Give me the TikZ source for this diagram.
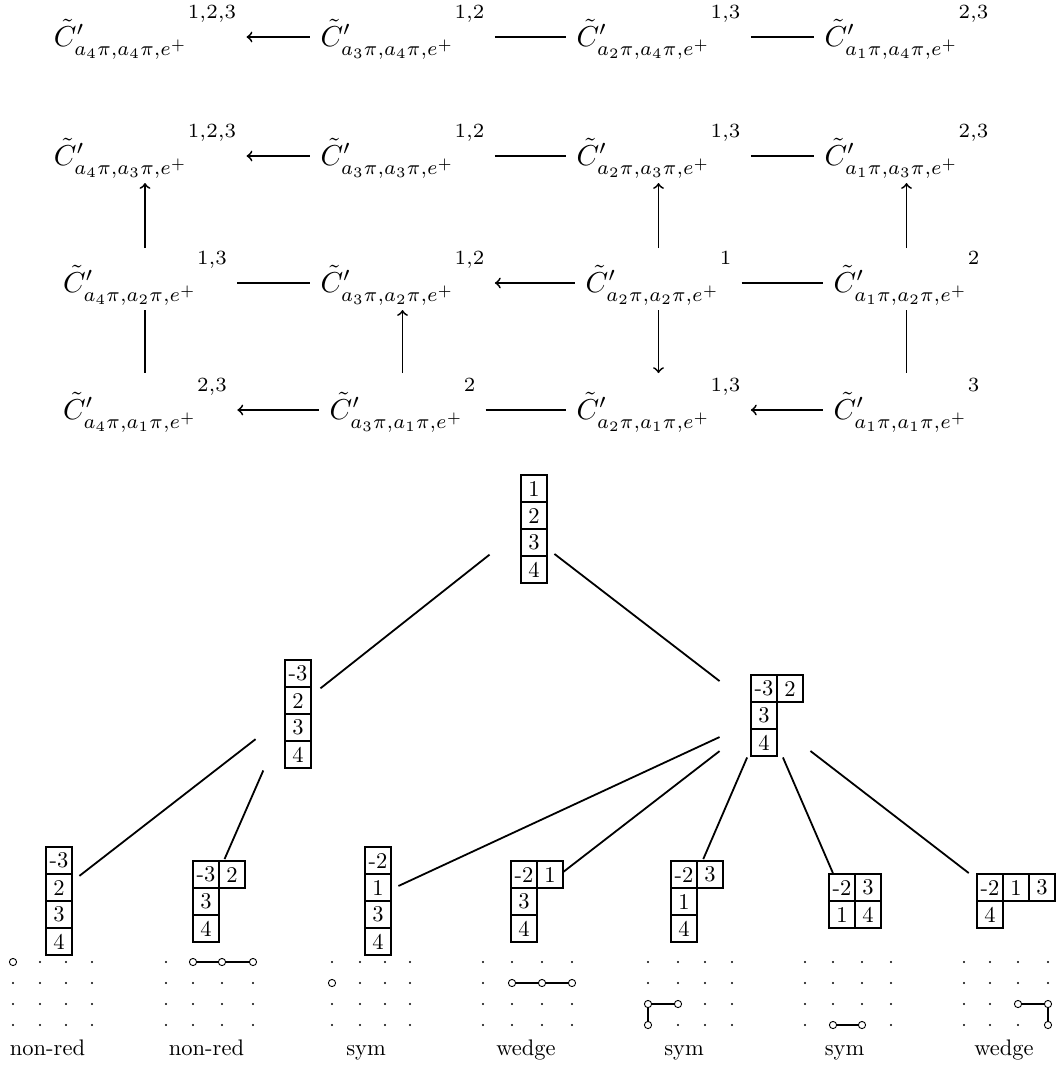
\documentclass[tikz,border=0pt]{standalone}
\usepackage{graphicx}
\usepackage{mathtools}
\newcommand\pxu{0.4444pt}
\newcommand\Cterm[3]{\scalebox{1.28}{$\tilde{C}'_{\scalebox{0.96}[1]{$\cramped[\scriptstyle]{a_{#1}\pi,a_{#2}\pi,e^+}$}}\raisebox{9.7pt}{$\scriptstyle #3$}$}}
% one row of a tableau: name, left x, top y, entries
\newcommand\tabrow[4]{%
  \foreach \e [count=\k] in {#4} {
    \draw[cellline] ({#2+(\k-1)*26},#3) rectangle ++(26,27);
    \node[celltext] (#1-\k) at ({#2+(\k-1)*26+13},{#3+13.5}) {\e};
  }}
% a 4x4 grid of dots
\newcommand\dotgrid[4]{%
  \foreach \xx in {#1,#2,#3,#4} {
    \foreach \yy in {962,983,1004,1025} {
      \fill (\xx,\yy) circle[radius=0.5pt];
    }}}
\begin{document}
\begin{tikzpicture}[x=0.4444pt,y=-0.4444pt,
  term/.style={inner xsep=4.44pt, inner ysep=0pt, anchor=base},
  conn/.style={line width=0.8pt},
  cellline/.style={line width=0.8pt},
  celltext/.style={inner sep=0pt},
  tbox/.style={rectangle, inner sep=0pt},
  treeline/.style={line width=0.8pt},
  ring/.style={circle, draw, line width=0.4pt, fill=white, inner sep=0pt, minimum size=3.2pt},
  link/.style={line width=0.8pt},
  lab/.style={inner sep=0pt, anchor=base}]
\useasboundingbox (0,0) rectangle (1056,1070);

% ---------- commutative diagram ----------
\node[term] (n11) at (145,46)   {\Cterm{4}{4}{1,2,3}};
\node[term] (n12) at (402.5,46) {\Cterm{3}{4}{1,2}};
\node[term] (n13) at (658.5,46) {\Cterm{2}{4}{1,3}};
\node[term] (n14) at (906.5,46) {\Cterm{1}{4}{2,3}};

\node[term] (n21) at (145,165)   {\Cterm{4}{3}{1,2,3}};
\node[term] (n22) at (402.5,165) {\Cterm{3}{3}{1,2}};
\node[term] (n23) at (658.5,165) {\Cterm{2}{3}{1,3}};
\node[term] (n24) at (906.5,165) {\Cterm{1}{3}{2,3}};

\node[term] (n31) at (145,292)   {\Cterm{4}{2}{1,3}};
\node[term] (n32) at (402.5,292) {\Cterm{3}{2}{1,2}};
\node[term] (n33) at (658.5,292) {\Cterm{2}{2}{1}};
\node[term] (n34) at (906.5,292) {\Cterm{1}{2}{2}};

\node[term] (n41) at (145,419)   {\Cterm{4}{1}{2,3}};
\node[term] (n42) at (402.5,419) {\Cterm{3}{1}{2}};
\node[term] (n43) at (658.5,419) {\Cterm{2}{1}{1,3}};
\node[term] (n44) at (906.5,419) {\Cterm{1}{1}{3}};

% horizontal connectors
\draw[conn,<-] ([yshift=4pt]n11.base east) -- ([yshift=4pt]n12.base west);
\draw[conn]    ([yshift=4pt]n12.base east) -- ([yshift=4pt]n13.base west);
\draw[conn]    ([yshift=4pt]n13.base east) -- ([yshift=4pt]n14.base west);

\draw[conn,<-] ([yshift=4pt]n21.base east) -- ([yshift=4pt]n22.base west);
\draw[conn]    ([yshift=4pt]n22.base east) -- ([yshift=4pt]n23.base west);
\draw[conn]    ([yshift=4pt]n23.base east) -- ([yshift=4pt]n24.base west);

\draw[conn]    ([yshift=4pt]n31.base east) -- ([yshift=4pt]n32.base west);
\draw[conn,<-] ([yshift=4pt]n32.base east) -- ([yshift=4pt]n33.base west);
\draw[conn]    ([yshift=4pt]n33.base east) -- ([yshift=4pt]n34.base west);

\draw[conn,<-] ([yshift=4pt]n41.base east) -- ([yshift=4pt]n42.base west);
\draw[conn]    ([yshift=4pt]n42.base east) -- ([yshift=4pt]n43.base west);
\draw[conn,<-] ([yshift=4pt]n43.base east) -- ([yshift=4pt]n44.base west);

% vertical connectors
\draw[conn,->] ([yshift=19.5pt]n31.base) -- ([yshift=-8pt]n21.base);
\draw[conn,->] ([yshift=19.5pt]n33.base) -- ([yshift=-8pt]n23.base);
\draw[conn,->] ([yshift=19.5pt]n34.base) -- ([yshift=-8pt]n24.base);
\draw[conn]    ([yshift=-8pt]n31.base) -- ([yshift=20.4pt]n41.base);
\draw[conn,->] ([yshift=20.4pt]n42.base) -- ([yshift=-8pt]n32.base);
\draw[conn,->] ([yshift=-8pt]n33.base) -- ([yshift=20.4pt]n43.base);
\draw[conn]    ([yshift=-8pt]n34.base) -- ([yshift=20.4pt]n44.base);

% ---------- tableaux ----------
\tabrow{rt1}{521}{475}{1}
\tabrow{rt2}{521}{502}{2}
\tabrow{rt3}{521}{529}{3}
\tabrow{rt4}{521}{556}{4}

\tabrow{lt1}{285}{660}{-3}
\tabrow{lt2}{285}{687}{2}
\tabrow{lt3}{285}{714}{3}
\tabrow{lt4}{285}{741}{4}

\tabrow{rr1}{751}{675}{-3,2}
\tabrow{rr2}{751}{702}{3}
\tabrow{rr3}{751}{729}{4}

\tabrow{ba1}{46}{847}{-3}
\tabrow{ba2}{46}{874}{2}
\tabrow{ba3}{46}{901}{3}
\tabrow{ba4}{46}{928}{4}

\tabrow{bb1}{193}{861}{-3,2}
\tabrow{bb2}{193}{888}{3}
\tabrow{bb3}{193}{915}{4}

\tabrow{bc1}{365}{847}{-2}
\tabrow{bc2}{365}{874}{1}
\tabrow{bc3}{365}{901}{3}
\tabrow{bc4}{365}{928}{4}

\tabrow{bd1}{511}{861}{-2,1}
\tabrow{bd2}{511}{888}{3}
\tabrow{bd3}{511}{915}{4}

\tabrow{be1}{671}{861}{-2,3}
\tabrow{be2}{671}{888}{1}
\tabrow{be3}{671}{915}{4}

\tabrow{bf1}{829}{874}{-2,3}
\tabrow{bf2}{829}{901}{1,4}

\tabrow{bg1}{977}{874}{-2,1,3}
\tabrow{bg2}{977}{901}{4}

% invisible boxes that the tree edges meet
\node[tbox, minimum width=64*\pxu, minimum height=112*\pxu] (root) at (522,529) {};
\node[tbox, minimum width=64*\pxu, minimum height=112*\pxu] (L) at (288,714) {};
\node[tbox, minimum width=90*\pxu, minimum height=82*\pxu] (R) at (765,716) {};
\node[tbox, minimum width=64*\pxu, minimum height=112*\pxu] (B1) at (47,901) {};
\node[tbox, minimum width=90*\pxu, minimum height=84*\pxu] (B2) at (206,901.5) {};
\node[tbox, minimum width=64*\pxu, minimum height=112*\pxu] (B3) at (366,901) {};
\node[tbox, minimum width=76*\pxu, minimum height=84*\pxu] (B4) at (525,901.5) {};
\node[tbox, minimum width=90*\pxu, minimum height=84*\pxu] (B5) at (685,901.5) {};
\node[tbox, minimum width=90*\pxu, minimum height=55*\pxu] (B6) at (845,901) {};
\node[tbox, minimum width=116*\pxu, minimum height=55*\pxu] (B7) at (1005,901) {};

\draw[treeline] (root) -- (L);
\draw[treeline] (root) -- (R);
\draw[treeline] (L) -- (B1);
\draw[treeline] (L) -- (B2);
\draw[treeline] (R) -- (B3);
\draw[treeline] (R) -- (B4);
\draw[treeline] (R) -- (B5);
\draw[treeline] (R) -- (B6);
\draw[treeline] (R) -- (B7);

% ---------- dot grids ----------
\dotgrid{13}{40}{66}{92}
\dotgrid{166}{193}{222}{253}
\dotgrid{332}{360}{385}{410}
\dotgrid{483}{512}{542}{572}
\dotgrid{648}{678}{705}{732}
\dotgrid{805}{833}{862}{891}
\dotgrid{964}{990}{1018}{1048}

\node[ring] (g1a) at (13,962) {};

\node[ring] (g2a) at (193,962) {};
\node[ring] (g2b) at (222,962) {};
\node[ring] (g2c) at (253,962) {};
\draw[link] (g2a) -- (g2b);
\draw[link] (g2b) -- (g2c);

\node[ring] (g3a) at (332,983) {};

\node[ring] (g4a) at (512,983) {};
\node[ring] (g4b) at (542,983) {};
\node[ring] (g4c) at (572,983) {};
\draw[link] (g4a) -- (g4b);
\draw[link] (g4b) -- (g4c);

\node[ring] (g5a) at (648,1004) {};
\node[ring] (g5b) at (678,1004) {};
\node[ring] (g5c) at (648,1025) {};
\draw[link] (g5a) -- (g5b);
\draw[link] (g5a) -- (g5c);

\node[ring] (g6a) at (833,1025) {};
\node[ring] (g6b) at (862,1025) {};
\draw[link] (g6a) -- (g6b);

\node[ring] (g7a) at (1018,1004) {};
\node[ring] (g7b) at (1048,1004) {};
\node[ring] (g7c) at (1048,1025) {};
\draw[link] (g7a) -- (g7b);
\draw[link] (g7b) -- (g7c);

% labels
\node[lab] (lab1) at (47.5,1055) {non-red};
\node[lab] (lab2) at (206.5,1055) {non-red};
\node[lab] (lab3) at (366,1055) {sym};
\node[lab] (lab4) at (526,1055) {wedge};
\node[lab] (lab5) at (684,1055) {sym};
\node[lab] (lab6) at (844.5,1055) {sym};
\node[lab] (lab7) at (1004,1055) {wedge};
\end{tikzpicture}
\end{document}
